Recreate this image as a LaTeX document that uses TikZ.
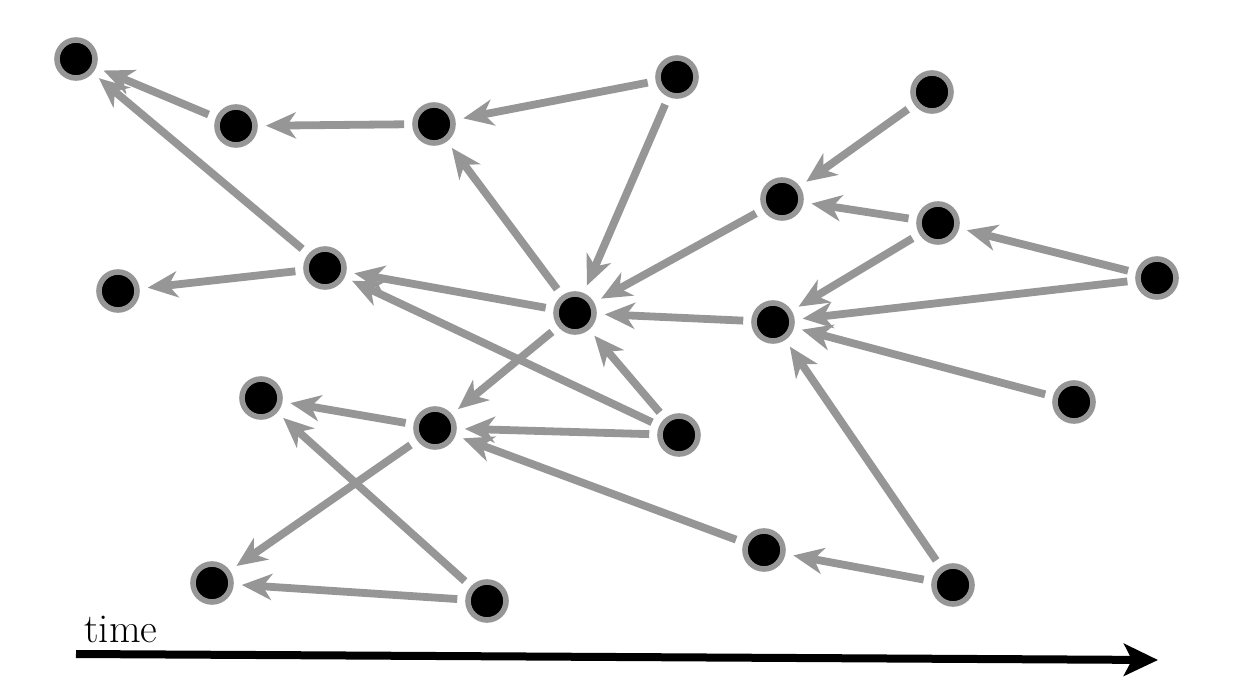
\documentclass[tikz,border=0pt]{standalone}
\usetikzlibrary{arrows.meta}
\definecolor{edgegray}{RGB}{150,150,150}
\begin{document}
\begin{tikzpicture}[x=0.5pt,y=-0.5pt,
  vtx/.style={circle,fill=black,draw=edgegray,line width=2.8pt,minimum size=19pt,inner sep=0pt},
  edge/.style={draw=edgegray,line width=3.9pt,-{Stealth[length=15pt,width=13pt,inset=4.5pt]},shorten >=4pt,shorten <=4pt},
  timeax/.style={draw=black,line width=4pt,-{Stealth[length=17pt,width=16pt,inset=4pt]}}]
\useasboundingbox (0,0) rectangle (1237,700);
\node[vtx] (A) at (76,59) {};
\node[vtx] (B) at (236,126) {};
\node[vtx] (C) at (434,124) {};
\node[vtx] (D) at (677,77) {};
\node[vtx] (E) at (932,92) {};
\node[vtx] (F) at (782,199) {};
\node[vtx] (G) at (938,223) {};
\node[vtx] (H) at (1157,278) {};
\node[vtx] (I) at (325,268) {};
\node[vtx] (J) at (118,291) {};
\node[vtx] (K) at (575,313) {};
\node[vtx] (L) at (773,322) {};
\node[vtx] (M) at (261,398) {};
\node[vtx] (N) at (435,428) {};
\node[vtx] (O) at (679,435) {};
\node[vtx] (P) at (1074,402) {};
\node[vtx] (Q) at (764,550) {};
\node[vtx] (R) at (212,583) {};
\node[vtx] (S) at (487,601) {};
\node[vtx] (T) at (953,585) {};
\draw[edge] (B) -- (A);
\draw[edge] (I) -- (A);
\draw[edge] (C) -- (B);
\draw[edge] (D) -- (C);
\draw[edge] (D) -- (K);
\draw[edge] (K) -- (C);
\draw[edge] (E) -- (F);
\draw[edge] (G) -- (F);
\draw[edge] (H) -- (G);
\draw[edge] (F) -- (K);
\draw[edge] (K) -- (I);
\draw[edge] (I) -- (J);
\draw[edge] (L) -- (K);
\draw[edge] (G) -- (L);
\draw[edge] (H) -- (L);
\draw[edge] (P) -- (L);
\draw[edge] (T) -- (L);
\draw[edge] (T) -- (Q);
\draw[edge] (Q) -- (N);
\draw[edge] (O) -- (N);
\draw[edge] (O) -- (K);
\draw[edge] (O) -- (I);
\draw[edge] (K) -- (N);
\draw[edge] (N) -- (M);
\draw[edge] (N) -- (R);
\draw[edge] (S) -- (R);
\draw[edge] (S) -- (M);
\coordinate (t0) at (76,654);
\coordinate (t1) at (1158,660);
\draw[timeax] (t0) -- (t1);
\node[anchor=base west,inner sep=0pt,font=\fontsize{20.5}{24}\selectfont] (tl) at (84,642) {time};
\end{tikzpicture}
\end{document}
